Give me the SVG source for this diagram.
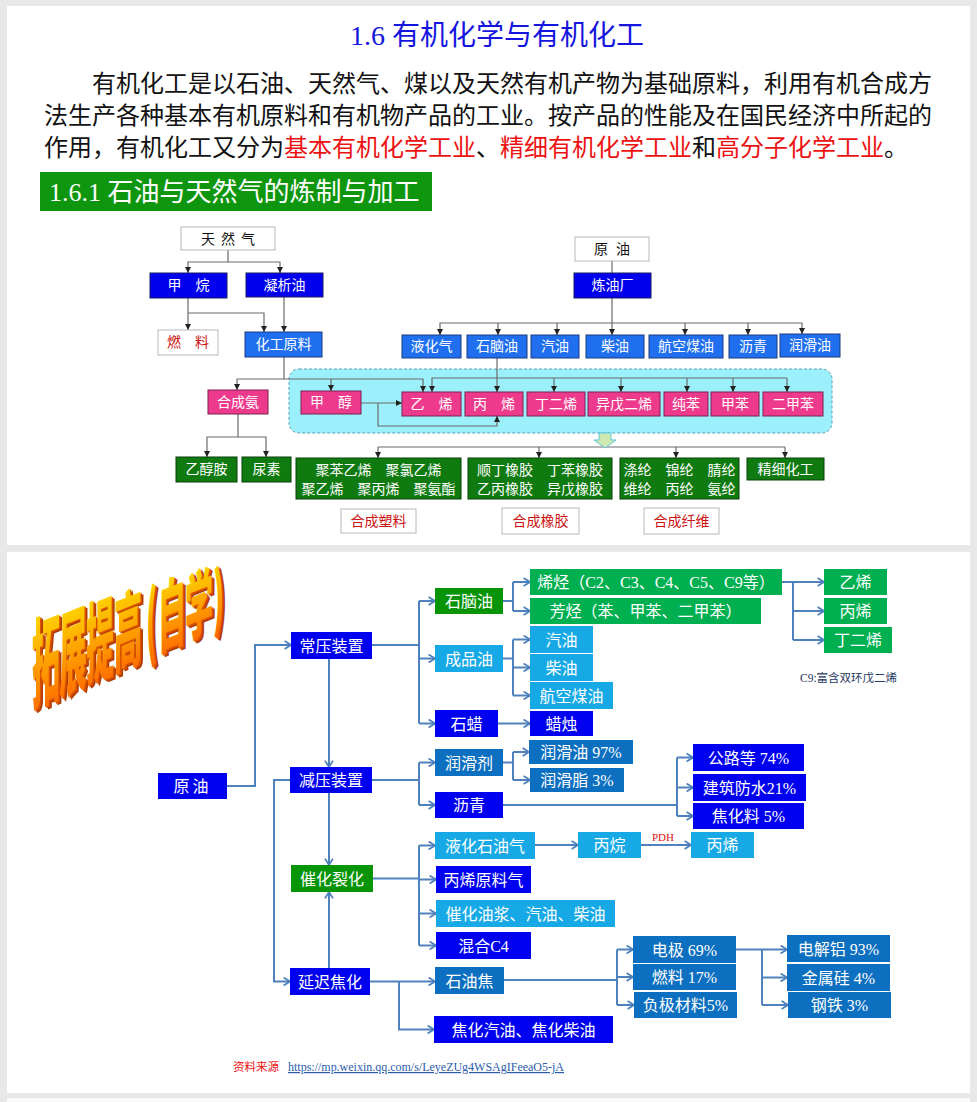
<svg xmlns="http://www.w3.org/2000/svg" xmlns:xlink="http://www.w3.org/1999/xlink" width="977" height="1102" viewBox="0 0 977 1102">
<style>
.sans{font-family:"Noto Sans CJK SC","Noto Sans",sans-serif}
.mix{font-family:"Liberation Serif","Noto Sans CJK SC",serif}
.t14{font-family:"Noto Sans CJK SC",sans-serif;font-size:14px;text-anchor:middle}
.t16{font-family:"Liberation Serif","Noto Sans CJK SC",serif;font-size:16px;text-anchor:middle;fill:#fff}
.wt{fill:#fff}
.bk{fill:#111}
.rd{fill:#cc1111}
.c1{fill:none;stroke:#6b6b6b;stroke-width:1.2}
.c2{fill:none;stroke:#4f81bd;stroke-width:2}
.a1{marker-end:url(#tr)}
.a2{marker-end:url(#ch)}
.bxw{fill:#fff;stroke:#b8b8b8;stroke-width:1}
.bxb{fill:#0000ee;stroke:#1a1a66;stroke-width:1}
.bxl{fill:#1f6fef;stroke:#1a3a80;stroke-width:1}
.bxp{fill:#ee3a8c;stroke:#7a2050;stroke-width:1}
.bxg{fill:#0f7a10;stroke:#0a3f0a;stroke-width:1}
.nbl{fill:#0000f0}
.ng1{fill:#079407}
.ng2{fill:#00b050}
.nlb{fill:#16a9e6}
.nmb{fill:#0d6fbf}
.wa{font-family:"Noto Sans CJK SC",sans-serif;font-size:28px;font-weight:900}
</style>
<defs>
<marker id="tr" viewBox="0 0 10 10" refX="10" refY="5" markerWidth="6" markerHeight="6" orient="auto" markerUnits="userSpaceOnUse"><path d="M0,0 L10,5 L0,10z" fill="#222"/></marker>
<marker id="ch" viewBox="0 0 10 12" refX="9" refY="6" markerWidth="8" markerHeight="9.6" orient="auto" markerUnits="userSpaceOnUse"><path d="M1,1 L9,6 L1,11" fill="none" stroke="#4f81bd" stroke-width="2.2"/></marker>
<linearGradient id="wg" x1="0" y1="0" x2="0" y2="1"><stop offset="0" stop-color="#fff200"/><stop offset="0.45" stop-color="#ffb000"/><stop offset="1" stop-color="#ff5a00"/></linearGradient>
<g id="wa" class="wa">
<text transform="translate(32,703) skewY(-22) scale(1,3.5)">拓</text>
<text transform="translate(59,692) skewY(-22) scale(1,3.35)">展</text>
<text transform="translate(86,680) skewY(-22) scale(1,3.2)">提</text>
<text transform="translate(114,668) skewY(-22) scale(1,3.05)">高</text>
<text transform="translate(146,654) skewY(-22) scale(1,2.9)">(</text>
<text transform="translate(158,649) skewY(-22) scale(1,2.8)">自</text>
<text transform="translate(185,638) skewY(-22) scale(1,2.65)">学</text>
<text transform="translate(213,626) skewY(-22) scale(1,2.5)">)</text>
</g>
</defs>

<rect x="0" y="0" width="977" height="1102" fill="#e8e8e8"/>
<rect x="7" y="6" width="963" height="539" fill="#fff"/>
<rect x="7" y="552" width="963" height="541" fill="#fff"/>
<rect x="7" y="1098" width="963" height="4" fill="#fafafa"/>

<!-- ===== Slide 1 ===== -->
<g id="title1">
<text x="497" y="45" class="mix" font-size="28" fill="#1515e0" text-anchor="middle">1.6 有机化学与有机化工</text>
</g>
<g id="para" class="sans" font-size="24" fill="#111">
<text x="92" y="92">有机化工是以石油、天然气、煤以及天然有机产物为基础原料，利用有机合成方</text>
<text x="44" y="124">法生产各种基本有机原料和有机物产品的工业。按产品的性能及在国民经济中所起的</text>
<text x="44" y="156">作用，有机化工又分为<tspan fill="#ee1111">基本有机化学工业</tspan>、<tspan fill="#ee1111">精细有机化学工业</tspan>和<tspan fill="#ee1111">高分子化学工业</tspan>。</text>
</g>
<g id="hdr161">
<rect x="40" y="172" width="392" height="39" fill="#0f960f"/>
<text x="49" y="201" class="mix" font-size="26" fill="#fff">1.6.1 石油与天然气的炼制与加工</text>
</g>

<g id="cyanbox"><rect x="289" y="369" width="543" height="64" rx="10" fill="#9cf0fb" stroke="#5a9fb8" stroke-width="1" stroke-dasharray="3 2"/></g>

<g id="conn1">
<path class="c1 a1" d="M228,250 V262 H188 V273"/>
<path class="c1 a1" d="M228,262 H280 V273"/>
<path class="c1 a1" d="M188,298 V330"/>
<path class="c1 a1" d="M188,313 H264 V332"/>
<path class="c1 a1" d="M284,297 V332"/>
<path class="c1 a1" d="M284,357 V379 H237 V390"/>
<path class="c1 a1" d="M284,379 H423 V392"/>
<path class="c1 a1" d="M331,379 V391"/>
<path class="c1 a1" d="M238,414 V437 H207 V457"/>
<path class="c1 a1" d="M238,437 H266 V457"/>
<path class="c1 a1" d="M361,403 H402"/>
<path class="c1 a1" d="M378,403 V426 H497 V416"/>
<path class="c1" d="M612,261 V273"/>
<path class="c1 a1" d="M612,298 V335"/>
<path class="c1 a1" d="M612,323 H440 V335"/>
<path class="c1 a1" d="M612,323 H802 V334"/>
<path class="c1 a1" d="M498,323 V335"/>
<path class="c1 a1" d="M557,323 V335"/>
<path class="c1 a1" d="M685,323 V335"/>
<path class="c1 a1" d="M748,323 V335"/>
<path class="c1 a1" d="M497,358 V392"/>
<path class="c1 a1" d="M787,378 H432 V392"/>
<path class="c1 a1" d="M554,378 V392"/>
<path class="c1 a1" d="M621,378 V392"/>
<path class="c1 a1" d="M687,378 V392"/>
<path class="c1 a1" d="M733,378 V392"/>
<path class="c1 a1" d="M787,378 V392"/>
<path class="c1" d="M378,447 H785"/>
<path class="c1 a1" d="M378,447 V458"/>
<path class="c1 a1" d="M539,447 V458"/>
<path class="c1 a1" d="M676,447 V458"/>
<path class="c1 a1" d="M785,447 V458"/>
<polygon points="599,433 611,433 611,440 616,440 605,448 594,440 599,440" fill="#cde8b0" stroke="#5ac8e0" stroke-width="1"/>
</g>

<g id="n-tianranqi"><rect class="bxw" x="181" y="227" width="94" height="23"/><text class="t14 bk" x="231" y="244" letter-spacing="6">天然气</text></g>
<g id="n-jiawan"><rect class="bxb" x="150" y="273" width="77" height="25"/><text class="t14 wt" x="188.5" y="290">甲　烷</text></g>
<g id="n-ningxiyou"><rect class="bxb" x="246" y="273" width="77" height="24"/><text class="t14 wt" x="284.5" y="290">凝析油</text></g>
<g id="n-ranliao"><rect class="bxw" x="158" y="330" width="60" height="25"/><text class="t14 rd" x="188" y="347">燃　料</text></g>
<g id="n-huagongyuanliao"><rect class="bxl" x="245" y="332" width="77" height="25"/><text class="t14 wt" x="283.5" y="349">化工原料</text></g>
<g id="n-hechengan"><rect class="bxp" x="208" y="390" width="60" height="24"/><text class="t14 wt" x="238" y="407">合成氨</text></g>
<g id="n-jiachun"><rect class="bxp" x="301" y="391" width="60" height="23"/><text class="t14 wt" x="331" y="407">甲　醇</text></g>
<g id="n-yixi"><rect class="bxp" x="402" y="392" width="59" height="24"/><text class="t14 wt" x="431.5" y="409">乙　烯</text></g>
<g id="n-bingxi"><rect class="bxp" x="465" y="392" width="58" height="24"/><text class="t14 wt" x="494" y="409">丙　烯</text></g>
<g id="n-dingerxi"><rect class="bxp" x="527" y="392" width="58" height="24"/><text class="t14 wt" x="556" y="409">丁二烯</text></g>
<g id="n-yiwuerxi"><rect class="bxp" x="588" y="392" width="72" height="24"/><text class="t14 wt" x="624" y="409">异戊二烯</text></g>
<g id="n-chunben"><rect class="bxp" x="664" y="392" width="44" height="24"/><text class="t14 wt" x="686" y="409">纯苯</text></g>
<g id="n-jiaben"><rect class="bxp" x="711" y="392" width="48" height="24"/><text class="t14 wt" x="735" y="409">甲苯</text></g>
<g id="n-erjiaben"><rect class="bxp" x="763" y="392" width="60" height="24"/><text class="t14 wt" x="793" y="409">二甲苯</text></g>
<g id="n-yuanyou1"><rect class="bxw" x="575" y="237" width="74" height="24"/><text class="t14 bk" x="616" y="254" letter-spacing="8">原油</text></g>
<g id="n-lianyouchang"><rect class="bxb" x="574" y="273" width="77" height="25"/><text class="t14 wt" x="612.5" y="290">炼油厂</text></g>
<g id="n-yehuaqi"><rect class="bxl" x="402" y="335" width="59" height="23"/><text class="t14 wt" x="431.5" y="351">液化气</text></g>
<g id="n-shinaoyou1"><rect class="bxl" x="467" y="335" width="60" height="23"/><text class="t14 wt" x="497" y="351">石脑油</text></g>
<g id="n-qiyou1"><rect class="bxl" x="531" y="335" width="48" height="23"/><text class="t14 wt" x="555" y="351">汽油</text></g>
<g id="n-chaiyou1"><rect class="bxl" x="586" y="335" width="58" height="23"/><text class="t14 wt" x="615" y="351">柴油</text></g>
<g id="n-hangkongmeiyou1"><rect class="bxl" x="649" y="335" width="74" height="23"/><text class="t14 wt" x="686" y="351">航空煤油</text></g>
<g id="n-liqing1"><rect class="bxl" x="729" y="335" width="48" height="23"/><text class="t14 wt" x="753" y="351">沥青</text></g>
<g id="n-runhuayou1"><rect class="bxl" x="780" y="334" width="60" height="23"/><text class="t14 wt" x="810" y="350">润滑油</text></g>
<g id="n-yichunan"><rect class="bxg" x="176" y="457" width="61" height="25"/><text class="t14 wt" x="206.5" y="474">乙醇胺</text></g>
<g id="n-niaosu"><rect class="bxg" x="242" y="457" width="49" height="25"/><text class="t14 wt" x="266.5" y="474">尿素</text></g>
<g id="n-suliao"><rect class="bxg" x="296" y="458" width="165" height="41"/><text class="t14 wt" x="378.5" y="475">聚苯乙烯　聚氯乙烯</text><text class="t14 wt" x="378.5" y="494">聚乙烯　聚丙烯　聚氨酯</text></g>
<g id="n-xiangjiao"><rect class="bxg" x="468" y="458" width="144" height="41"/><text class="t14 wt" x="540" y="475">顺丁橡胶　丁苯橡胶</text><text class="t14 wt" x="540" y="494">乙丙橡胶　异戊橡胶</text></g>
<g id="n-xianwei"><rect class="bxg" x="620" y="458" width="119" height="41"/><text class="t14 wt" x="679.5" y="475">涤纶　锦纶　腈纶</text><text class="t14 wt" x="679.5" y="494">维纶　丙纶　氨纶</text></g>
<g id="n-jingxihuagong"><rect class="bxg" x="747" y="458" width="77" height="22"/><text class="t14 wt" x="785.5" y="474">精细化工</text></g>
<g id="l-suliao"><rect class="bxw" x="341" y="509" width="75" height="24"/><text class="t14 rd" x="378.5" y="526">合成塑料</text></g>
<g id="l-xiangjiao"><rect class="bxw" x="502" y="508" width="77" height="26"/><text class="t14 rd" x="540.5" y="526">合成橡胶</text></g>
<g id="l-xianwei"><rect class="bxw" x="644" y="508" width="75" height="26"/><text class="t14 rd" x="681.5" y="526">合成纤维</text></g>

<!-- ===== Slide 2 ===== -->
<g id="wordart">
<use href="#wa" xlink:href="#wa" fill="#b03c00" transform="translate(3,2.5)"/>
<use href="#wa" xlink:href="#wa" fill="#d85000" transform="translate(1.5,1.2)"/>
<use href="#wa" xlink:href="#wa" fill="url(#wg)"/>
</g>

<g id="conn2">
<path class="c2 a2" d="M227,786 H255 V645 H291"/>
<path class="c2 a2" d="M329,659 V767"/>
<path class="c2" d="M372,645 H419 M419,601 V723.5"/>
<path class="c2 a2" d="M419,601 H435"/>
<path class="c2 a2" d="M419,658.5 H435"/>
<path class="c2 a2" d="M419,723.5 H435"/>
<path class="c2" d="M503,601 H513 M513,582 V611"/>
<path class="c2 a2" d="M513,582 H530"/>
<path class="c2 a2" d="M513,611 H530"/>
<path class="c2" d="M503,658.5 H513 M513,639.5 V695.5"/>
<path class="c2 a2" d="M513,639.5 H530"/>
<path class="c2 a2" d="M513,667.5 H530"/>
<path class="c2 a2" d="M513,695.5 H530"/>
<path class="c2 a2" d="M498,723.5 H530"/>
<path class="c2" d="M782,582 H793 M793,582 V640"/>
<path class="c2 a2" d="M793,582 H824"/>
<path class="c2 a2" d="M793,611 H824"/>
<path class="c2 a2" d="M793,640 H824"/>
<path class="c2" d="M372,780 H419 M419,762.5 V805"/>
<path class="c2 a2" d="M419,762.5 H435"/>
<path class="c2 a2" d="M419,805 H435"/>
<path class="c2 a2" d="M290,780 H274 V981.5 H290"/>
<path class="c2 a2" d="M329,793 V865"/>
<path class="c2 a2" d="M329,968 V892"/>
<path class="c2" d="M503,762.5 H513 M513,752 V780"/>
<path class="c2 a2" d="M513,752 H529"/>
<path class="c2 a2" d="M513,780 H530"/>
<path class="c2" d="M503,805 H677 M677,757.5 V816"/>
<path class="c2 a2" d="M677,757.5 H693"/>
<path class="c2 a2" d="M677,787.5 H693"/>
<path class="c2 a2" d="M677,816 H693"/>
<path class="c2" d="M373,878.5 H419 M419,845.5 V945.5"/>
<path class="c2 a2" d="M419,845.5 H435"/>
<path class="c2 a2" d="M419,879.5 H436"/>
<path class="c2 a2" d="M419,913.5 H436"/>
<path class="c2 a2" d="M419,945.5 H436"/>
<path class="c2 a2" d="M535,845 H578"/>
<path class="c2 a2" d="M641,845 H691"/>
<path class="c2 a2" d="M370,981.5 H435"/>
<path class="c2 a2" d="M399,981.5 V1029.5 H434"/>
<path class="c2" d="M504,980 H617 M617,949.5 V1005"/>
<path class="c2 a2" d="M617,949.5 H633"/>
<path class="c2 a2" d="M617,977 H633"/>
<path class="c2 a2" d="M617,1005 H634"/>
<path class="c2" d="M736,949.5 H762 M762,949.5 V1005"/>
<path class="c2 a2" d="M762,949.5 H787"/>
<path class="c2 a2" d="M762,977.5 H787"/>
<path class="c2 a2" d="M762,1005 H788"/>
</g>

<g id="m-yuanyou"><rect class="nbl" x="158" y="773" width="69" height="26"/><text class="t16" x="192.5" y="792" letter-spacing="3">原油</text></g>
<g id="m-changya"><rect class="nbl" x="291" y="632" width="81" height="27"/><text class="t16" x="331.5" y="651.5">常压装置</text></g>
<g id="m-jianya"><rect class="nbl" x="290" y="767" width="82" height="26"/><text class="t16" x="331" y="786">减压装置</text></g>
<g id="m-cuihualiehua"><rect class="ng1" x="291" y="865" width="82" height="27"/><text class="t16" x="332" y="884.5">催化裂化</text></g>
<g id="m-yanchijiaohua"><rect class="nbl" x="290" y="968" width="80" height="27"/><text class="t16" x="330" y="987.5">延迟焦化</text></g>
<g id="m-shinaoyou"><rect class="ng1" x="435" y="588" width="68" height="26"/><text class="t16" x="469" y="607">石脑油</text></g>
<g id="m-chengpinyou"><rect class="nlb" x="435" y="645" width="68" height="27"/><text class="t16" x="469" y="664.5">成品油</text></g>
<g id="m-shila"><rect class="nbl" x="435" y="710" width="63" height="27"/><text class="t16" x="466.5" y="729.5">石蜡</text></g>
<g id="m-runhuaji"><rect class="nmb" x="435" y="749" width="68" height="27"/><text class="t16" x="469" y="768.5">润滑剂</text></g>
<g id="m-liqing"><rect class="nbl" x="435" y="792" width="68" height="26"/><text class="t16" x="469" y="811">沥青</text></g>
<g id="m-yehuashiyouqi"><rect class="nlb" x="435" y="832" width="100" height="27"/><text class="t16" x="485" y="851.5">液化石油气</text></g>
<g id="m-bingxiyuanliaoqi"><rect class="nbl" x="436" y="866" width="95" height="27"/><text class="t16" x="483.5" y="885.5">丙烯原料气</text></g>
<g id="m-cuihuayoujiang"><rect class="nlb" x="436" y="900" width="179" height="27"/><text class="t16" x="525.5" y="919.5">催化油浆、汽油、柴油</text></g>
<g id="m-hunhec4"><rect class="nbl" x="436" y="932" width="95" height="27"/><text class="t16" x="483.5" y="951.5">混合C4</text></g>
<g id="m-shiyoujiao"><rect class="nmb" x="435" y="967" width="69" height="27"/><text class="t16" x="469.5" y="986.5">石油焦</text></g>
<g id="m-jiaohuaqiyou"><rect class="nbl" x="434" y="1016" width="179" height="27"/><text class="t16" x="523.5" y="1035.5">焦化汽油、焦化柴油</text></g>
<g id="m-xiting"><rect class="ng2" x="530" y="569" width="252" height="26"/><text class="t16" x="656" y="588">烯烃（C2、C3、C4、C5、C9等）</text></g>
<g id="m-fangting"><rect class="ng2" x="530" y="598" width="231" height="26"/><text class="t16" x="645.5" y="617">芳烃（苯、甲苯、二甲苯）</text></g>
<g id="m-qiyou"><rect class="nlb" x="530" y="626" width="63" height="27"/><text class="t16" x="561.5" y="645.5">汽油</text></g>
<g id="m-chaiyou"><rect class="nlb" x="530" y="654" width="63" height="27"/><text class="t16" x="561.5" y="673.5">柴油</text></g>
<g id="m-hangkongmeiyou"><rect class="nlb" x="530" y="682" width="83" height="27"/><text class="t16" x="571.5" y="701.5">航空煤油</text></g>
<g id="m-lazhu"><rect class="nbl" x="530" y="711" width="63" height="25"/><text class="t16" x="561.5" y="729.5">蜡烛</text></g>
<g id="m-runhuayou"><rect class="nmb" x="529" y="740" width="104" height="24"/><text class="t16" x="581" y="758">润滑油 97%</text></g>
<g id="m-runhuazhi"><rect class="nmb" x="530" y="768" width="94" height="24"/><text class="t16" x="577" y="786">润滑脂 3%</text></g>
<g id="m-yixi"><rect class="ng2" x="824" y="569" width="63" height="26"/><text class="t16" x="855.5" y="588">乙烯</text></g>
<g id="m-bingxi1"><rect class="ng2" x="824" y="598" width="63" height="26"/><text class="t16" x="855.5" y="617">丙烯</text></g>
<g id="m-dingerxi"><rect class="ng2" x="824" y="627" width="68" height="26"/><text class="t16" x="858" y="646">丁二烯</text></g>
<g id="m-note"><text x="800" y="682" class="mix" font-size="11.5" fill="#1f3864">C9:富含双环戊二烯</text></g>
<g id="m-gonglu"><rect class="nbl" x="693" y="744" width="111" height="27"/><text class="t16" x="748.5" y="763.5">公路等 74%</text></g>
<g id="m-jianzhu"><rect class="nbl" x="693" y="774" width="113" height="27"/><text class="t16" x="749.5" y="793.5">建筑防水21%</text></g>
<g id="m-jiaohualiao"><rect class="nbl" x="693" y="803" width="111" height="26"/><text class="t16" x="748.5" y="822">焦化料 5%</text></g>
<g id="m-bingwan"><rect class="nlb" x="578" y="832" width="63" height="26"/><text class="t16" x="609.5" y="851">丙烷</text></g>
<g id="m-bingxi2"><rect class="nlb" x="691" y="832" width="63" height="26"/><text class="t16" x="722.5" y="851">丙烯</text></g>
<g id="m-pdh"><text x="663" y="841" class="mix" font-size="11" fill="#e01010" text-anchor="middle">PDH</text></g>
<g id="m-dianji"><rect class="nmb" x="633" y="936" width="103" height="27"/><text class="t16" x="684.5" y="955.5">电极 69%</text></g>
<g id="m-ranliao"><rect class="nmb" x="633" y="964" width="103" height="26"/><text class="t16" x="684.5" y="983">燃料 17%</text></g>
<g id="m-fujicailiao"><rect class="nmb" x="634" y="992" width="103" height="26"/><text class="t16" x="685.5" y="1011">负极材料5%</text></g>
<g id="m-dianjielv"><rect class="nmb" x="787" y="935" width="103" height="27"/><text class="t16" x="838.5" y="954.5">电解铝 93%</text></g>
<g id="m-jinshugui"><rect class="nmb" x="787" y="964" width="103" height="27"/><text class="t16" x="838.5" y="983.5">金属硅 4%</text></g>
<g id="m-gangtie"><rect class="nmb" x="788" y="992" width="103" height="26"/><text class="t16" x="839.5" y="1011">钢铁 3%</text></g>

<g id="footer">
<text x="233" y="1071" class="sans" font-size="11.5" fill="#ee1111">资料来源</text>
<text x="288" y="1071" class="mix" font-size="12" fill="#2a5caa" text-decoration="underline" textLength="276" lengthAdjust="spacingAndGlyphs">https://mp.weixin.qq.com/s/LeyeZUg4WSAgIFeeaO5-jA</text>
</g>
</svg>
